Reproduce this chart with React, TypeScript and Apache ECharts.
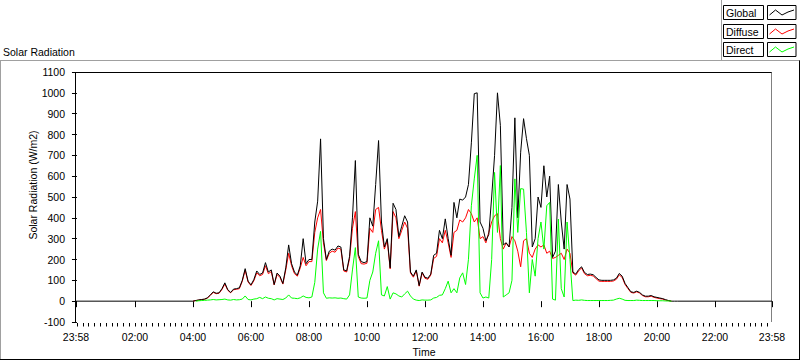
import React, { useEffect, useRef } from "react";
import * as echarts from "echarts";

// Sampling grid of the recorded day (minutes after midnight)
const START_MIN = 240; // 04:00
const STEP_MIN = 6;
const AXIS_START = -2; // 23:58 of previous day
const AXIS_END = 1438; // 23:58

const seriesNames = ["Global", "Diffuse", "Direct"];

// Global radiation (W/m2)
const globalW = [
  0, 3, 6, 8, 10, 16, 30, 45, 38, 40,
  60, 88, 55, 42, 58, 60, 64, 100, 156, 96,
  78, 104, 145, 128, 135, 185, 140, 150, 80, 135,
  120, 85, 160, 270, 180, 140, 125, 170, 300, 180,
  200, 200, 380, 480, 779, 300, 200, 240, 250, 245,
  265, 260, 150, 145, 215, 400, 675, 225, 190, 185,
  190, 400, 360, 560, 771, 380, 260, 300, 160, 470,
  440, 310, 360, 410, 380, 140, 120, 150, 75, 140,
  115, 110, 130, 220, 230, 340, 300, 395, 300, 220,
  474, 400, 490, 485, 500, 560, 760, 996, 1000, 380,
  350, 290, 320, 500, 700, 1000, 844, 270, 280, 260,
  450, 880, 400, 715, 876, 780, 700, 260, 300, 500,
  450, 650, 500, 600, 210, 240, 560, 380, 250, 560,
  490, 140, 130, 152, 165, 138, 128, 130, 127, 114,
  102, 100, 100, 100, 100, 102, 110, 133, 120, 85,
  65, 45, 42, 48, 42, 30, 24, 24, 27, 21,
  18, 15, 12, 7, 3, 0, 0, 0,
];

// Diffuse radiation (W/m2)
const diffuseW: (number | null)[] = [
  0, 3, 5, 7, 9, 15, 28, 42, 36, 38,
  56, 82, 52, 40, 55, 57, 60, 95, 148, 92,
  75, 98, 136, 122, 128, 170, 132, 142, 78, 128,
  114, 82, 150, 230, 170, 132, 120, 160, 210, 170,
  190, 190, 330, 400, 440, 280, 195, 230, 240, 235,
  255, 250, 145, 140, 205, 350, 430, 215, 180, 178,
  182, 350, 330, 440, 450, 340, 250, 290, 155, 430,
  400, 300, 340, 380, 350, 135, 115, 145, 72, 135,
  110, 105, 125, 205, 215, 300, 280, 340, 280, 210,
  330, 340, 390, 380, 400, 440, 420, 380, 400, 300,
  310, 280, 330, 380, 410, 420, 300, 250, 280, 260,
  310, 290, 240, 165, 290, 300, 230, 210, 250, 270,
  260, 270, 230, 240, 205, 210, 220, 230, 200, 250,
  230, 135, 125, 145, 160, 132, 122, 124, 121, 108,
  96, 95, 95, 95, 95, 97, 105, 126, 114, 80,
  60, 42, 39, 45, 39, 27, 21, 21, 24, 18,
  15, 12, 10, 5, 2, 0, null, null,
];

// Direct radiation (W/m2)
const directW: (number | null)[] = [
  null, 0, 2, 3, 4, 5, 6, 8, 6, 7,
  8, 10, 6, 5, 8, 6, 7, 10, 25, 8,
  6, 10, 12, 18, 12, 20, 14, 12, 6, 12,
  10, 8, 15, 30, 15, 14, 12, 16, 25, 18,
  16, 20, 90, 250, 335, 40, 14, 16, 15, 16,
  14, 15, 12, 10, 30, 150, 257, 20, 15, 14,
  15, 100, 140, 230, 290, 30, 25, 70, 10, 40,
  35, 25, 20, 35, 48, 25, 10, 5, 3, 6,
  5, 5, 6, 15, 18, 28, 30, 60, 96, 40,
  60, 40, 112, 136, 80, 201, 458, 587, 700, 40,
  15, 20, 15, 200, 618, 330, 651, 20, 30, 40,
  100, 587, 330, 540, 538, 330, 40, 200, 120, 300,
  380, 250, 458, 474, 10, 5, 394, 60, 20, 380,
  200, 3, 5, 4, 6, 4, 3, 3, 3, 3,
  3, 3, 3, 3, 4, 5, 10, 14, 10, 4,
  3, 3, 3, 5, 4, 3, 3, 3, 3, 3,
  2, 2, 2, 1, 1, 0, null, null,
];

// Time axis labels (minutes after midnight)
const majorTickMinutes = [-2, 120, 240, 360, 480, 600, 720, 840, 960, 1080, 1200, 1320, 1438];
const MINOR_TICK_STEP = 12;

const FONT = '"Liberation Sans", Arial, sans-serif';

function fmtTime(v: number): string {
  const m = ((Math.round(v) % 1440) + 1440) % 1440;
  const h = Math.floor(m / 60);
  const mm = m % 60;
  return `${String(h).padStart(2, "0")}:${String(mm).padStart(2, "0")}`;
}

export default function App() {
  const ref = useRef<HTMLDivElement>(null);

  useEffect(() => {
    document.body.style.margin = "0";
    if (!ref.current) return;
    const chart = echarts.init(ref.current, undefined, { renderer: "svg" });

    const times = globalW.map((_, i) => START_MIN + i * STEP_MIN);
    const pairs = (arr: (number | null)[]) =>
      times
        .map((t, i) => [t, arr[i]] as [number, number | null])
        .filter((p) => p[1] !== null) as [number, number][];

    const globalData = [[AXIS_START, 0], ...pairs(globalW), [AXIS_END, 0]];
    const diffuseData = pairs(diffuseW);
    const directData = pairs(directW);

    const minorTicks: number[] = [];
    for (let m = 0; m <= AXIS_END; m += MINOR_TICK_STEP) minorTicks.push(m);

    const colors = ["#000000", "#ff0000", "#00ff00"];

    const legendEls: any[] = [];
    seriesNames.forEach((name, r) => {
      const y0 = Math.round(5 + 18.7 * r);
      legendEls.push({
        type: "rect",
        shape: { x: 723.5, y: y0 + 0.5, width: 40, height: 14 },
        style: { fill: "#ffffff", stroke: "#000000", lineWidth: 1 },
        silent: true,
      });
      legendEls.push({
        type: "text",
        x: 726,
        y: y0 + 8,
        style: { text: name, fill: "#000000", font: `10.5px ${FONT}`, verticalAlign: "middle", align: "left" },
        silent: true,
      });
      legendEls.push({
        type: "rect",
        shape: { x: 767.5, y: y0 + 0.5, width: 28.5, height: 14 },
        style: { fill: "#ffffff", stroke: "#000000", lineWidth: 1 },
        silent: true,
      });
      legendEls.push({
        type: "polyline",
        shape: {
          points: [
            [769.5, y0 + 10],
            [775.5, y0 + 5],
            [782, y0 + 10],
            [788, y0 + 7],
            [794, y0 + 5],
          ],
        },
        style: { stroke: colors[r], lineWidth: 1, fill: "none" },
        silent: true,
      });
    });

    const line = (x1: number, y1: number, x2: number, y2: number, color: string) => ({
      type: "line",
      shape: { x1, y1, x2, y2 },
      style: { stroke: color, lineWidth: 1 },
      silent: true,
    });

    chart.setOption({
      animation: false,
      backgroundColor: "#ffffff",
      textStyle: { fontFamily: FONT },
      grid: { left: 76, top: 72, width: 696, height: 250, containLabel: false, outerBoundsMode: "none" },
      xAxis: [
        {
          type: "value",
          min: AXIS_START,
          max: AXIS_END,
          position: "bottom",
          offset: 1,
          axisLine: { show: false },
          splitLine: { show: false },
          axisTick: { show: true, length: 6, customValues: majorTickMinutes, lineStyle: { color: "#000000" } },
          axisLabel: {
            show: true,
            customValues: majorTickMinutes,
            formatter: (v: number) => fmtTime(v),
            color: "#000000",
            fontSize: 10.5,
            fontFamily: FONT,
            margin: 8,
            showMinLabel: true,
            showMaxLabel: true,
          },
        },
        {
          type: "value",
          min: AXIS_START,
          max: AXIS_END,
          position: "bottom",
          offset: 1,
          axisLine: { show: false },
          splitLine: { show: false },
          axisLabel: { show: false },
          axisTick: { show: true, length: 3.5, customValues: minorTicks, lineStyle: { color: "#000000" } },
        },
      ],
      yAxis: {
        type: "value",
        min: -100,
        max: 1100,
        interval: 100,
        offset: 4,
        axisLine: { show: false },
        splitLine: { show: false },
        axisTick: { show: true, length: 5, lineStyle: { color: "#000000" } },
        axisLabel: {
          color: "#000000",
          fontSize: 10.5,
          fontFamily: FONT,
          margin: 7,
          formatter: (v: number) => String(v),
        },
      },
      graphic: {
        elements: [
          // outer panel frame
          line(0, 60.5, 800, 60.5, "#a0a0a0"),
          line(0.5, 60.5, 0.5, 359, "#a0a0a0"),
          line(0, 359.5, 800, 359.5, "#000000"),
          line(799.5, 60.5, 799.5, 360, "#000000"),
          line(721.5, 0, 721.5, 61, "#a0a0a0"),
          // plot frame
          line(75.5, 72, 75.5, 322, "#000000"),
          line(75.5, 72.5, 772, 72.5, "#000000"),
          line(771.5, 72.5, 771.5, 322, "#808080"),
          {
            type: "text",
            x: 3,
            y: 52,
            style: { text: "Solar Radiation", fill: "#000000", font: `10.5px ${FONT}`, verticalAlign: "middle" },
            silent: true,
          },
          {
            type: "text",
            x: 33,
            y: 185,
            rotation: Math.PI / 2,
            style: {
              text: "Solar Radiation (W/m2)",
              fill: "#000000",
              font: `10.5px ${FONT}`,
              align: "center",
              verticalAlign: "middle",
            },
            silent: true,
          },
          {
            type: "text",
            x: 424,
            y: 352,
            style: { text: "Time", fill: "#000000", font: `10.5px ${FONT}`, align: "center", verticalAlign: "middle" },
            silent: true,
          },
          ...legendEls,
        ],
      },
      series: [
        {
          name: "Diffuse",
          type: "line",
          data: diffuseData,
          showSymbol: false,
          symbol: "none",
          lineStyle: { width: 1, color: colors[1] },
          itemStyle: { color: colors[1] },
        },
        {
          name: "Global",
          type: "line",
          data: globalData,
          showSymbol: false,
          symbol: "none",
          lineStyle: { width: 1, color: colors[0] },
          itemStyle: { color: colors[0] },
        },
        {
          name: "Direct",
          type: "line",
          data: directData,
          showSymbol: false,
          symbol: "none",
          lineStyle: { width: 1, color: colors[2] },
          itemStyle: { color: colors[2] },
        },
      ],
    });

    return () => chart.dispose();
  }, []);

  return <div ref={ref} style={{ width: 800, height: 361 }} />;
}
